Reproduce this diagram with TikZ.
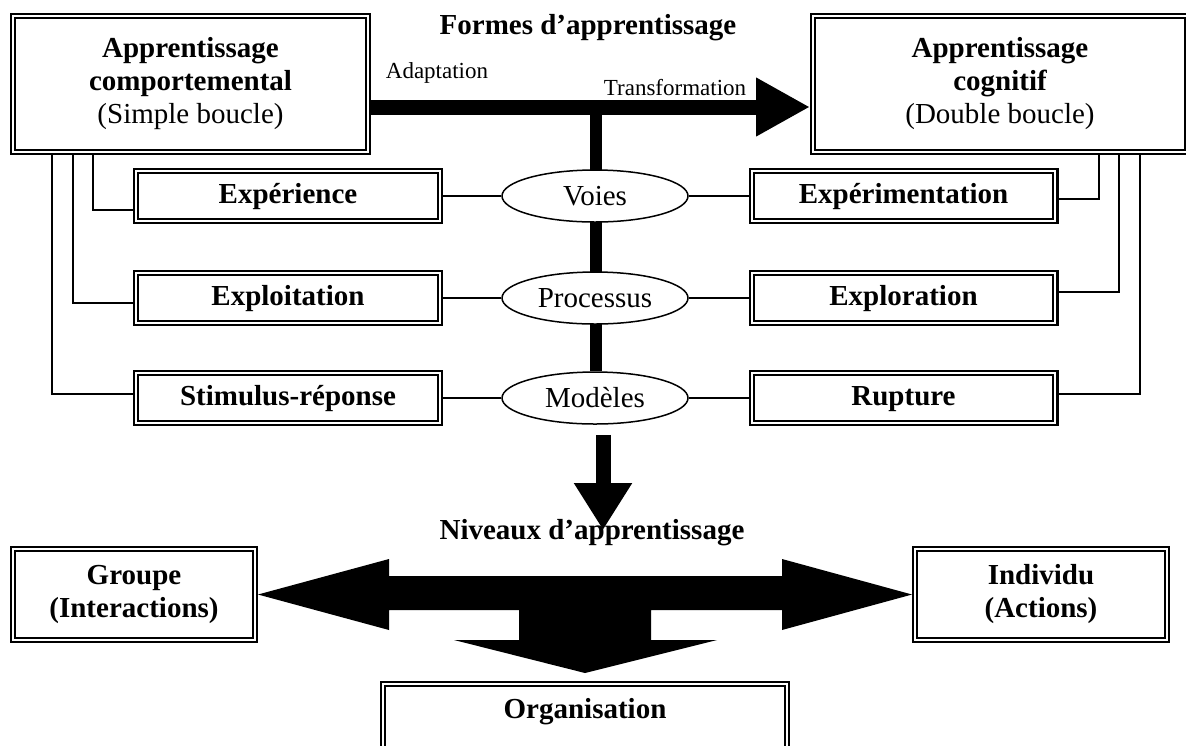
\documentclass[tikz,border=0pt]{standalone}
\usepackage{fontspec}
\setmainfont{Liberation Serif}
\usepackage{tikz}
\usetikzlibrary{shapes.geometric, arrows.meta, positioning, calc, backgrounds}

\tikzset{
  dblbox/.style={draw, double, line width=1.1pt, double distance=1pt, fill=white,
    inner sep=0pt, outer sep=1.6pt, align=center,
    font=\fontsize{14.5}{16.5}\selectfont\bfseries},
  bigbox/.style={dblbox, minimum height=67.8pt},
  smallbox/.style={dblbox, minimum width=151.8pt, minimum height=24.8pt,
    text height=10pt, text depth=2.5pt},
  levelbox/.style={dblbox, minimum height=45.3pt},
  wayellipse/.style={ellipse, draw, line width=0.75pt, fill=white, inner sep=0pt,
    minimum width=93pt, minimum height=26pt, font=\fontsize{14.5}{16.5}\selectfont},
  link/.style={draw, line width=0.8pt},
  fatbar/.style={line width=7.5pt},
  title/.style={font=\fontsize{14.5}{16.5}\selectfont\bfseries},
  small/.style={font=\fontsize{11.5}{13}\selectfont},
}

\begin{document}
\begin{tikzpicture}[x=0.5pt, y=-0.5pt]
    \path[use as bounding box] (0,0) rectangle (1186,745);

    % formes d'apprentissage
    \node[title] (formes) at (588,28) {Formes d’apprentissage};
    \node[bigbox, minimum width=177.3pt] (comp) at (190.5,84)
      {Apprentissage\\comportemental\\{\mdseries(Simple boucle)}};
    \node[bigbox, minimum width=186.8pt] (cogn) at (1000,84)
      {Apprentissage\\cognitif\\{\mdseries(Double boucle)}};
    \node[small] (adapt) at (437,73) {Adaptation};
    \node[small] (transf) at (675,88) {Transformation};

    \node[smallbox] (exper) at (288,196) {Expérience};
    \node[smallbox] (exploit) at (288,298) {Exploitation};
    \node[smallbox] (stim) at (288,398) {Stimulus-réponse};
    \node[smallbox] (experim) at (903.5,196) {Expérimentation};
    \node[smallbox] (explor) at (903.5,298) {Exploration};
    \node[smallbox] (rupt) at (903.5,398) {Rupture};

    \node[wayellipse] (voies) at (595,196) {Voies};
    \node[wayellipse] (proc) at (595,298) {Processus};
    \node[wayellipse] (mod) at (595,398) {Modèles};

    \coordinate (junc) at (596,107);
    \draw[fatbar, -{Triangle[length=27pt, width=27.5pt]}] (comp.east |- junc) -- (cogn.west |- junc);
    \begin{scope}[on background layer]
      \draw[line width=6pt] (junc) -- (junc |- mod.north);
    \end{scope}

    \draw[link] (exper) -- (voies) -- (experim);
    \draw[link] (exploit) -- (proc) -- (explor);
    \draw[link] (stim) -- (mod) -- (rupt);

    \draw[link] ($(comp.south west)+(83,0)$) |- ([yshift=-7pt]exper.west);
    \draw[link] ($(comp.south west)+(63,0)$) |- ([yshift=-2.5pt]exploit.west);
    \draw[link] ($(comp.south west)+(42,0)$) |- ([yshift=2pt]stim.west);
    \draw[link] ($(cogn.south east)+(-91,0)$) |- ([yshift=-1.5pt]experim.east);
    \draw[link] ($(cogn.south east)+(-71,0)$) |- ([yshift=3pt]explor.east);
    \draw[link] ($(cogn.south east)+(-50,0)$) |- ([yshift=2pt]rupt.east);

    % niveaux d'apprentissage
    \coordinate (downtip) at (603,530);
    \draw[fatbar, -{Triangle[length=23.5pt, width=27.5pt]}] ($(mod.south -| downtip)+(0,10)$) -- (downtip);
    \node[title] (niveaux) at (592,533) {Niveaux d’apprentissage};

    \node[levelbox, minimum width=120.8pt] (grp) at (134,594.5) {Groupe\\(Interactions)};
    \node[levelbox, minimum width=125.8pt] (ind) at (1041,594.5) {Individu\\(Actions)};
    \node[dblbox, minimum width=201.8pt, minimum height=40pt, text height=10pt, text depth=16pt,
      anchor=north] (org) at (585,681) {Organisation};

    \fill (grp.east) -- (389,559) -- (389,576) -- (782,576) -- (782,559) -- (ind.west)
      -- (782,630) -- (782,610) -- (651,610) -- (651,640) -- (717,640) -- (585,673)
      -- (454,640) -- (519,640) -- (519,610) -- (389,610) -- (389,630) -- cycle;
\end{tikzpicture}
\end{document}
